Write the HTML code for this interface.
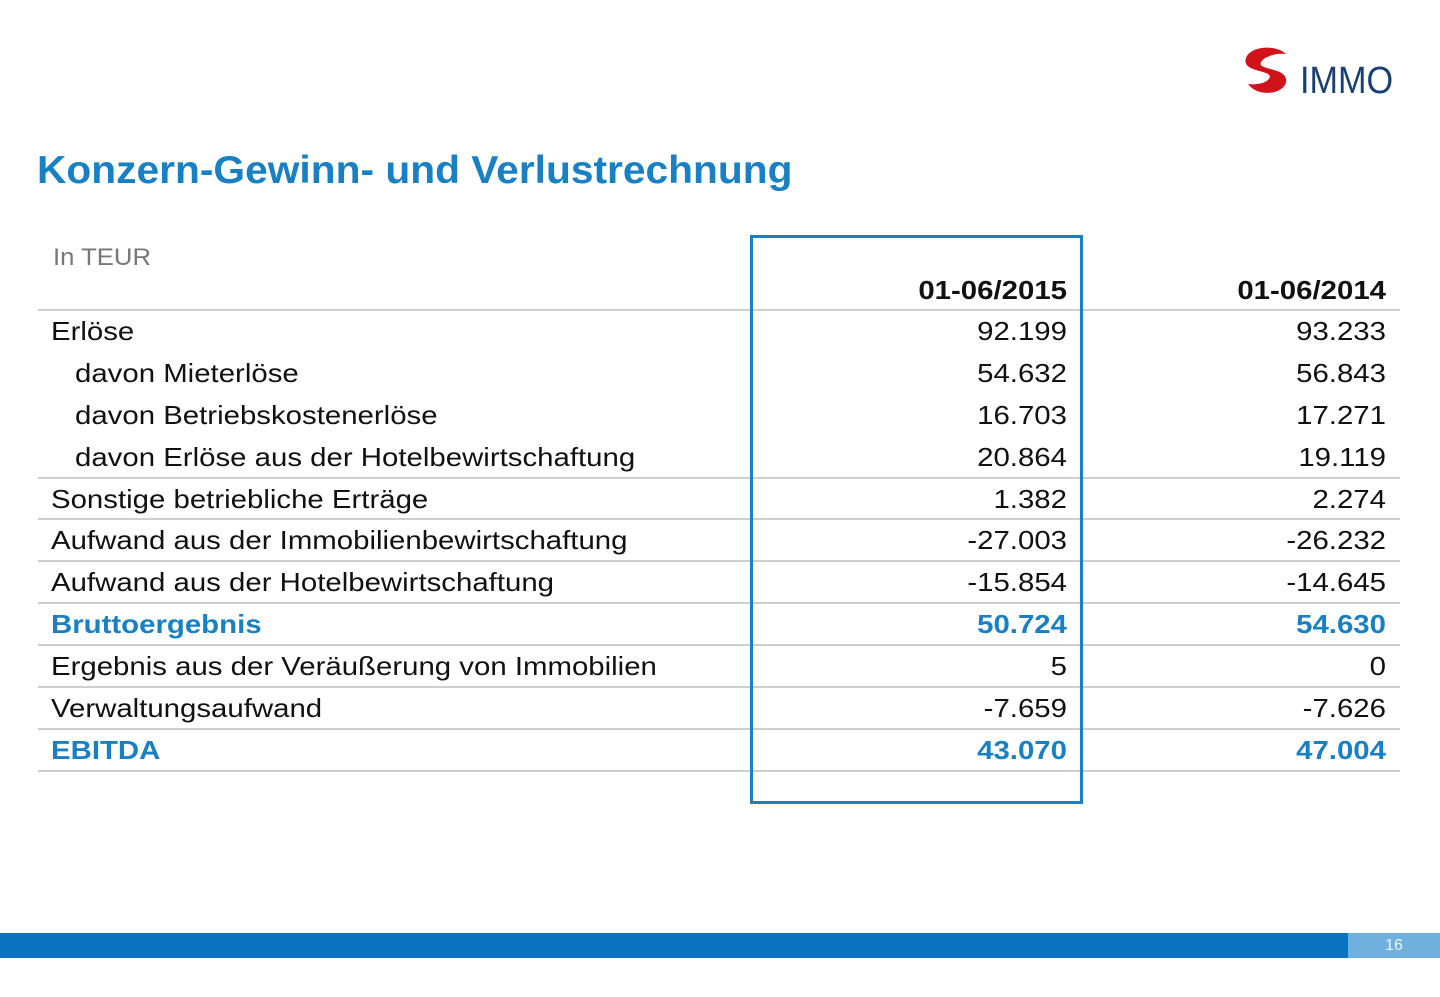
<!DOCTYPE html>
<html><head><meta charset="utf-8"><style>
body{margin:0;width:1440px;height:997px;background:#fff;position:relative;overflow:hidden;font-family:"Liberation Sans",Arial,sans-serif;}
.a{position:absolute;white-space:nowrap}
.t{font-size:26px;color:#111;line-height:30px;transform:scaleX(1.13);transform-origin:left center}
.r{text-align:right;transform-origin:right center}
.b{color:#1a80c4;font-weight:bold}
.ln{position:absolute;left:38px;width:1362px;height:2px;background:#cfcfcf}
</style></head><body>
<div class="a" style="left:1240px;top:44px;width:54px;height:54px">
<svg width="54" height="54" viewBox="0 0 54 54"><path d="M46 10 C36 0 10 2 6 14 C2 26 22 26 28 30 C34 34 24 42 8 40 C18 54 44 50 46 38 C48 26 28 26 22 22 C16 18 30 8 46 10Z" fill="#d0121b"/></svg></div>
<div class="a" style="left:1300px;top:60px;font-size:38px;color:#1a3f74;line-height:42px;transform:scaleX(0.9);transform-origin:left center">IMMO</div>
<div class="a" style="left:37px;top:148px;font-size:39px;font-weight:bold;color:#1a80c4;line-height:46px;transform:scaleX(1.044);transform-origin:left center">Konzern-Gewinn- und Verlustrechnung</div>
<div class="a" style="left:53px;top:244px;font-size:24px;color:#777;transform:scaleX(1.07);transform-origin:left center">In TEUR</div>
<div class="a t r" style="left:760px;width:307px;top:275px;font-weight:bold">01-06/2015</div>
<div class="a t r" style="left:1090px;width:296px;top:275px;font-weight:bold">01-06/2014</div>
<div class="ln" style="top:309px"></div>
<div class="ln" style="top:477px"></div>
<div class="ln" style="top:518px"></div>
<div class="ln" style="top:560px"></div>
<div class="ln" style="top:602px"></div>
<div class="ln" style="top:644px"></div>
<div class="ln" style="top:686px"></div>
<div class="ln" style="top:728px"></div>
<div class="ln" style="top:770px"></div>
<div class="a" style="left:750px;top:235px;width:327px;height:563px;border:3px solid #1a80c4"></div>

<div class="a t" style="left:51px;top:316px">Erlöse</div>
<div class="a t r" style="left:760px;width:307px;top:316px">92.199</div>
<div class="a t r" style="left:1090px;width:296px;top:316px">93.233</div>

<div class="a t" style="left:75px;top:358px">davon Mieterlöse</div>
<div class="a t r" style="left:760px;width:307px;top:358px">54.632</div>
<div class="a t r" style="left:1090px;width:296px;top:358px">56.843</div>

<div class="a t" style="left:75px;top:400px">davon Betriebskostenerlöse</div>
<div class="a t r" style="left:760px;width:307px;top:400px">16.703</div>
<div class="a t r" style="left:1090px;width:296px;top:400px">17.271</div>

<div class="a t" style="left:75px;top:442px">davon Erlöse aus der Hotelbewirtschaftung</div>
<div class="a t r" style="left:760px;width:307px;top:442px">20.864</div>
<div class="a t r" style="left:1090px;width:296px;top:442px">19.119</div>

<div class="a t" style="left:51px;top:484px">Sonstige betriebliche Erträge</div>
<div class="a t r" style="left:760px;width:307px;top:484px">1.382</div>
<div class="a t r" style="left:1090px;width:296px;top:484px">2.274</div>

<div class="a t" style="left:51px;top:525px">Aufwand aus der Immobilienbewirtschaftung</div>
<div class="a t r" style="left:760px;width:307px;top:525px">-27.003</div>
<div class="a t r" style="left:1090px;width:296px;top:525px">-26.232</div>

<div class="a t" style="left:51px;top:567px">Aufwand aus der Hotelbewirtschaftung</div>
<div class="a t r" style="left:760px;width:307px;top:567px">-15.854</div>
<div class="a t r" style="left:1090px;width:296px;top:567px">-14.645</div>

<div class="a t b" style="left:51px;top:609px">Bruttoergebnis</div>
<div class="a t r b" style="left:760px;width:307px;top:609px">50.724</div>
<div class="a t r b" style="left:1090px;width:296px;top:609px">54.630</div>

<div class="a t" style="left:51px;top:651px">Ergebnis aus der Veräußerung von Immobilien</div>
<div class="a t r" style="left:760px;width:307px;top:651px">5</div>
<div class="a t r" style="left:1090px;width:296px;top:651px">0</div>

<div class="a t" style="left:51px;top:693px">Verwaltungsaufwand</div>
<div class="a t r" style="left:760px;width:307px;top:693px">-7.659</div>
<div class="a t r" style="left:1090px;width:296px;top:693px">-7.626</div>

<div class="a t b" style="left:51px;top:735px">EBITDA</div>
<div class="a t r b" style="left:760px;width:307px;top:735px">43.070</div>
<div class="a t r b" style="left:1090px;width:296px;top:735px">47.004</div>

<div class="a" style="left:0;top:933px;width:1348px;height:25px;background:#0a74c0"></div>
<div class="a" style="left:1348px;top:933px;width:92px;height:25px;background:#6fb0de;color:#eef6fc;font-size:16px;line-height:25px;text-align:center">16</div>
</body></html>
